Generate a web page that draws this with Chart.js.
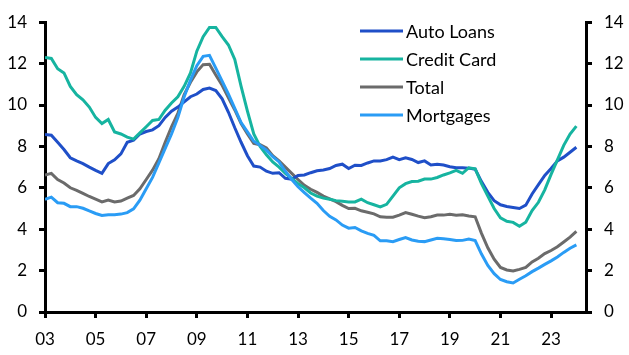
<!DOCTYPE html>
<html>
<head>
<meta charset="utf-8">
<script src="https://cdn.jsdelivr.net/npm/chart.js@4.4.1/dist/chart.umd.min.js"></script>
<style>
html,body{margin:0;padding:0;background:#fff;}
#wrap{width:629px;height:355px;position:relative;}
</style>
</head>
<body>
<div id="wrap"><canvas id="c" width="629" height="355"></canvas></div>
<script>
// Quarterly data, 2003Q1 .. 2024Q1
const startYear = 2003;
const seriesNames = ["Auto Loans", "Credit Card", "Total", "Mortgages"];
const autoLoans = [8.58,8.54,8.2,7.85,7.45,7.3,7.17,7.0,6.84,6.7,7.17,7.35,7.64,8.2,8.3,8.6,8.72,8.8,9.0,9.4,
  9.7,9.9,10.15,10.4,10.53,10.75,10.82,10.7,10.3,9.65,8.9,8.2,7.55,7.05,7.0,6.8,6.7,6.73,6.46,6.42,
  6.6,6.62,6.73,6.82,6.86,6.93,7.08,7.14,6.93,7.09,7.08,7.2,7.3,7.3,7.36,7.48,7.36,7.45,7.37,7.22,
  7.3,7.1,7.14,7.1,7.02,6.97,6.97,6.95,6.9,6.3,5.78,5.38,5.18,5.1,5.05,5.0,5.16,5.7,6.15,6.6,
  6.93,7.3,7.48,7.72,7.96];
const creditCard = [12.3,12.25,11.75,11.55,10.9,10.5,10.25,9.9,9.4,9.1,9.3,8.7,8.6,8.45,8.35,8.65,8.95,9.25,9.3,9.75,
  10.1,10.4,10.9,11.55,12.6,13.3,13.75,13.75,13.3,12.9,12.2,10.9,9.7,8.6,8.0,7.6,7.25,7.0,6.7,6.45,
  6.2,6.0,5.75,5.6,5.5,5.45,5.38,5.35,5.32,5.32,5.45,5.28,5.18,5.08,5.2,5.6,6.0,6.2,6.3,6.32,
  6.42,6.42,6.5,6.62,6.72,6.84,6.7,6.97,6.92,6.2,5.6,5.0,4.55,4.38,4.33,4.14,4.34,4.9,5.3,5.9,
  6.65,7.35,8.05,8.6,8.98];
const total = [6.62,6.7,6.4,6.23,6.0,5.88,5.73,5.58,5.45,5.32,5.41,5.32,5.36,5.5,5.63,5.95,6.4,6.85,7.4,8.2,
  8.95,9.6,10.5,11.1,11.6,11.95,11.97,11.45,10.95,10.35,9.76,9.1,8.6,8.15,8.08,7.92,7.55,7.3,7.0,6.7,
  6.4,6.12,5.93,5.78,5.6,5.47,5.33,5.15,5.0,5.01,4.89,4.82,4.74,4.6,4.58,4.58,4.68,4.8,4.72,4.63,
  4.55,4.6,4.68,4.68,4.72,4.68,4.7,4.64,4.6,3.8,3.1,2.55,2.15,2.03,1.98,2.06,2.15,2.42,2.6,2.82,
  2.97,3.15,3.38,3.62,3.9];
const mortgages = [5.44,5.55,5.28,5.25,5.09,5.09,5.01,4.88,4.76,4.66,4.7,4.7,4.73,4.8,4.98,5.4,5.95,6.5,7.2,7.9,
  8.6,9.4,10.4,11.2,11.9,12.35,12.4,11.78,11.15,10.52,9.84,9.15,8.7,8.25,8.05,7.82,7.5,7.25,6.8,6.4,
  6.05,5.77,5.5,5.25,4.9,4.62,4.45,4.2,4.05,4.08,3.92,3.8,3.7,3.44,3.44,3.4,3.5,3.6,3.48,3.42,
  3.4,3.48,3.56,3.54,3.5,3.45,3.46,3.52,3.45,2.8,2.25,1.85,1.57,1.46,1.4,1.58,1.75,1.95,2.12,2.3,
  2.47,2.66,2.88,3.08,3.24];
const xTickYears = [2003,2005,2007,2009,2011,2013,2015,2017,2019,2021,2023];
const yTicks = [0,2,4,6,8,10,12,14];

const colors = ["#1f4fc8", "#16b4a0", "#6b6b6b", "#2a9cf5"];
const FONT = "Lato, 'Open Sans', sans-serif";

function toPoints(arr){ return arr.map((v,i)=>({x: startYear + i/4, y: v})); }
const allSeries = [autoLoans, creditCard, total, mortgages];
const datasets = allSeries.map((arr,k)=>({
  label: seriesNames[k],
  data: toPoints(arr),
  borderColor: colors[k],
  backgroundColor: colors[k],
  borderWidth: 3,
  pointRadius: 0,
  tension: 0,
  yAxisID: 'y',
  order: [3,2,4,1][k]
}));

const legendPlugin = {
  id: 'customLegend',
  afterDraw(chart){
    const ctx = chart.ctx;
    ctx.save();
    ctx.font = "18px " + FONT;
    ctx.textBaseline = 'middle';
    seriesNames.forEach((name,k)=>{
      const y = 31 + k*28;
      ctx.strokeStyle = colors[k];
      ctx.lineWidth = 3;
      ctx.beginPath();
      ctx.moveTo(360, y);
      ctx.lineTo(403, y);
      ctx.stroke();
      ctx.fillStyle = '#000';
      ctx.fillText(name, 406, y + 1);
    });
    ctx.restore();
  }
};

const axisCommon = {
  min: 0, max: 14,
  border: {display: true, color: '#000', width: 3},
  grid: {display: true, drawOnChartArea: false, drawTicks: true, tickLength: 6, color: '#000', lineWidth: 3},
  afterBuildTicks: s => { s.ticks = yTicks.map(v=>({value: v})); },
  ticks: {color: '#000', font: {family: FONT, size: 17}, padding: 12}
};

new Chart(document.getElementById('c'), {
  type: 'line',
  data: {datasets},
  options: {
    responsive: false,
    animation: false,
    devicePixelRatio: 1,
    layout: {padding: {top: 15, left: 0, right: 0, bottom: 0}},
    plugins: {legend: {display: false}, tooltip: {enabled: false}},
    scales: {
      x: {
        type: 'linear',
        min: 2003, max: 2024.38,
        border: {display: true, color: '#000', width: 3},
        grid: {display: true, drawOnChartArea: false, drawTicks: true, tickLength: 6, color: '#000', lineWidth: 3},
        afterBuildTicks: s => { s.ticks = xTickYears.map(v=>({value: v})); },
        afterFit: s => { s.height = 43; },
        ticks: {color: '#000', font: {family: FONT, size: 17}, padding: 11, maxRotation: 0,
          callback: v => String(v % 100).padStart(2,'0')}
      },
      y: Object.assign({}, axisCommon, {position: 'left', afterFit: s => { s.width = 45; }}),
      y2: Object.assign({}, axisCommon, {position: 'right', afterFit: s => { s.width = 43; }})
    }
  },
  plugins: [legendPlugin]
});
</script>
</body>
</html>
